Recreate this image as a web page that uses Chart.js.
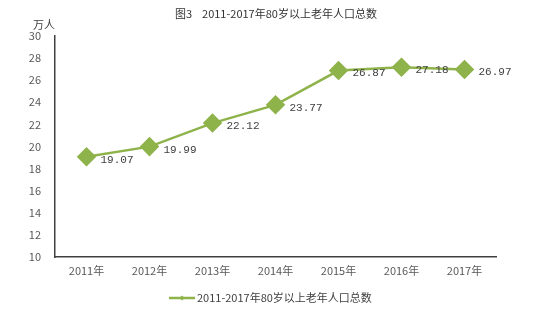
<!DOCTYPE html>
<html><head><meta charset="utf-8">
<script src="https://cdn.jsdelivr.net/npm/chart.js@4.4.1/dist/chart.umd.min.js"></script>
<style>html,body{margin:0;padding:0;background:#fff}#wrap{width:553px;height:317px}</style>
</head><body><div id="wrap"><canvas id="c" width="553" height="317"></canvas></div>
<script>
const categories = ["2011年","2012年","2013年","2014年","2015年","2016年","2017年"];
const seriesName = "2011-2017年80岁以上老年人口总数";
const values = [19.07, 19.99, 22.12, 23.77, 26.87, 27.18, 26.97];
const valueLabels = ["19.07","19.99","22.12","23.77","26.87","27.18","26.97"];
const yTicks = [10,12,14,16,18,20,22,24,26,28,30];
const titleText = "图3    2011-2017年80岁以上老年人口总数";
const unitText = "万人";

const FONT = '"Noto Sans CJK SC", "DejaVu Sans", sans-serif';
const MONO = '"Liberation Mono", "DejaVu Sans Mono", monospace';
const GREEN = '#8fb34b';

const extras = {
  id: 'extras',
  afterDatasetsDraw(chart) {
    const ctx = chart.ctx;
    const meta = chart.getDatasetMeta(0);
    ctx.save();
    ctx.font = '11px ' + MONO;
    ctx.fillStyle = '#404040';
    ctx.textAlign = 'left';
    ctx.textBaseline = 'middle';
    meta.data.forEach((pt, i) => {
      ctx.fillText(valueLabels[i], pt.x + 14, pt.y + 3);
    });
    ctx.restore();
  },
  afterDraw(chart) {
    const ctx = chart.ctx;
    ctx.save();
    ctx.fillStyle = '#333';
    ctx.font = '11px ' + FONT;
    ctx.textAlign = 'center';
    ctx.textBaseline = 'middle';
    ctx.fillText(titleText, 276, 14);
    ctx.fillStyle = '#404040';
    ctx.fillText(unitText, 44, 25);
    // legend
    ctx.strokeStyle = GREEN;
    ctx.lineWidth = 2.5;
    ctx.beginPath(); ctx.moveTo(169, 298); ctx.lineTo(195, 298); ctx.stroke();
    ctx.fillStyle = GREEN;
    ctx.beginPath(); ctx.moveTo(182, 295.5); ctx.lineTo(184.5, 298); ctx.lineTo(182, 300.5); ctx.lineTo(179.5, 298); ctx.closePath(); ctx.fill();
    ctx.fillStyle = '#404040';
    ctx.textAlign = 'left';
    ctx.fillText(seriesName, 197, 298);
    ctx.restore();
  }
};

new Chart(document.getElementById('c'), {
  type: 'line',
  data: {
    labels: categories,
    datasets: [{
      label: seriesName,
      data: values,
      borderColor: GREEN,
      backgroundColor: GREEN,
      borderWidth: 2.5,
      pointStyle: 'rectRot',
      pointRadius: 8,
      pointHoverRadius: 8,
      pointBackgroundColor: GREEN,
      pointBorderColor: GREEN,
      tension: 0,
      fill: false
    }]
  },
  options: {
    responsive: false,
    animation: false,
    events: [],
    layout: { padding: { left: 0, right: 57, top: 36, bottom: 0 } },
    plugins: { legend: { display: false }, title: { display: false }, tooltip: { enabled: false } },
    scales: {
      x: {
        offset: true,
        grid: { display: false, drawTicks: false },
        border: { display: true, color: '#404040', width: 1.5 },
        ticks: { color: '#595959', font: { family: FONT, size: 11 }, padding: 7, maxRotation: 0 },
        afterFit(s) { s.height = 60; }
      },
      y: {
        min: 10, max: 30,
        afterBuildTicks(s) { s.ticks = yTicks.map(v => ({ value: v })); },
        grid: { display: false, drawTicks: false },
        border: { display: true, color: '#404040', width: 1.5 },
        ticks: { color: '#595959', font: { family: FONT, size: 11 }, padding: 14 },
        afterFit(s) { s.width = 55; }
      }
    }
  },
  plugins: [extras]
});
</script></body></html>
